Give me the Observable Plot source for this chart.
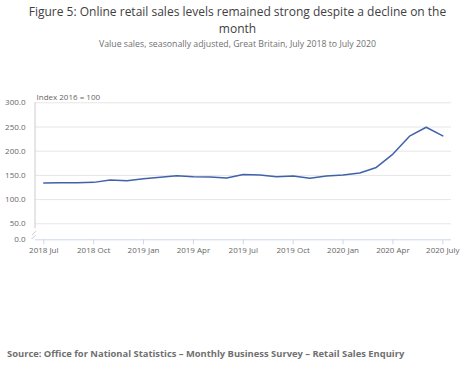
<!DOCTYPE html>
<html>
<head>
<meta charset="utf-8">
<script src="https://cdn.jsdelivr.net/npm/d3@7"></script>
<script src="https://cdn.jsdelivr.net/npm/@observablehq/plot@0.6"></script>
<style>
  html, body { margin: 0; padding: 0; background: #fff; }
  body { width: 475px; height: 373px; position: relative; overflow: hidden; font-family: "Open Sans", sans-serif; }
  .title { position: absolute; left: 0; width: 475px; text-align: center; font-size: 12px; line-height: 12px; color: #414042; white-space: nowrap; }
  #title1 { top: 5.9px; }
  #title2 { top: 22.5px; }
  #subtitle { position: absolute; top: 38px; left: 0; width: 475px; text-align: center; font-size: 8.75px; color: #707070; }
  #chart { position: absolute; top: 60px; left: 0; }
  #source { position: absolute; top: 347px; left: 7px; font-size: 9.4px; font-weight: bold; color: #707070; }
</style>
</head>
<body>
<div class="title" id="title1">Figure 5: Online retail sales levels remained strong despite a decline on the</div>
<div class="title" id="title2">month</div>
<div id="subtitle">Value sales, seasonally adjusted, Great Britain, July 2018 to July 2020</div>
<div id="chart"></div>
<div id="source">Source: Office for National Statistics – Monthly Business Survey – Retail Sales Enquiry</div>
<script>
const months = [
  "2018 Jul","2018 Aug","2018 Sep","2018 Oct","2018 Nov","2018 Dec",
  "2019 Jan","2019 Feb","2019 Mar","2019 Apr","2019 May","2019 Jun",
  "2019 Jul","2019 Aug","2019 Sep","2019 Oct","2019 Nov","2019 Dec",
  "2020 Jan","2020 Feb","2020 Mar","2020 Apr","2020 May","2020 Jun",
  "2020 July"
];
const values = [
  134.4, 135.0, 135.0, 135.6, 140.5, 139.0,
  143.0, 146.0, 149.4, 147.0, 146.6, 144.6,
  152.0, 150.7, 147.3, 148.7, 143.9, 148.7,
  150.7, 155.0, 166.5, 194.0, 231.0, 249.5,
  231.7
];
const xTickIndex = [0, 3, 6, 9, 12, 15, 18, 21, 24];
const yTicks = [0, 50, 100, 150, 200, 250, 300];
const gridTicks = [50, 100, 150, 200, 250, 300];
const yAxisLabel = "Index 2016 = 100";
const axisBreakAt = 35;

const data = months.map((m, i) => ({i, month: m, value: values[i]}));

const W = 475, H = 205;
const chart = Plot.plot({
  width: W,
  height: H,
  marginLeft: 35,
  marginRight: 24,
  marginTop: 42.3,
  marginBottom: 25.7,
  style: {fontFamily: "'Open Sans', sans-serif", fontSize: "8px", color: "#707070", background: "white"},
  x: {type: "linear", domain: [0, months.length - 1], range: [43.3, 442.3]},
  y: {type: "linear", domain: [0, 50, 300], range: [179.3, 163.3, 42.3]},
  marks: [
    Plot.gridY(gridTicks, {stroke: "#e6e6e6", strokeOpacity: 1}),
    Plot.ruleY([0], {stroke: "#ccd6eb"}),
    Plot.axisX({ticks: xTickIndex, tickFormat: i => months[i], tickSize: 5, stroke: "#ccd6eb", strokeOpacity: 1, tickPadding: 3, fill: "#666", fontSize: 8, label: null}),
    Plot.axisY({ticks: yTicks, tickSize: 0, tickPadding: 10, tickFormat: d3.format(".1f"), fill: "#666", fontSize: 8, label: null}),
    // left axis line with break
    (index, scales, values, dims) => {
      const g = d3.create("svg:g").attr("stroke", "#ccc").attr("fill", "none");
      const x0 = dims.marginLeft;
      const yTop = scales.y(300);
      const yBreak = scales.y(axisBreakAt);
      g.append("line").attr("x1", x0).attr("x2", x0).attr("y1", yTop).attr("y2", yBreak);
      g.append("line").attr("x1", x0 - 3).attr("x2", x0 + 1).attr("y1", yBreak + 7).attr("y2", yBreak + 3);
      g.append("line").attr("x1", x0 - 3.5).attr("x2", x0 + 0.5).attr("y1", yBreak + 11).attr("y2", yBreak + 7);
      return g.node();
    },
    Plot.text([yAxisLabel], {
      frameAnchor: "top-left", dx: 1, dy: -2.5, textAnchor: "start", lineAnchor: "bottom",
      fill: "#666", fontSize: 8
    }),
    Plot.line(data, {x: "i", y: "value", stroke: "#4062ab", strokeWidth: 1.5, curve: "linear"})
  ]
});
document.getElementById("chart").append(chart);
</script>
</body>
</html>
